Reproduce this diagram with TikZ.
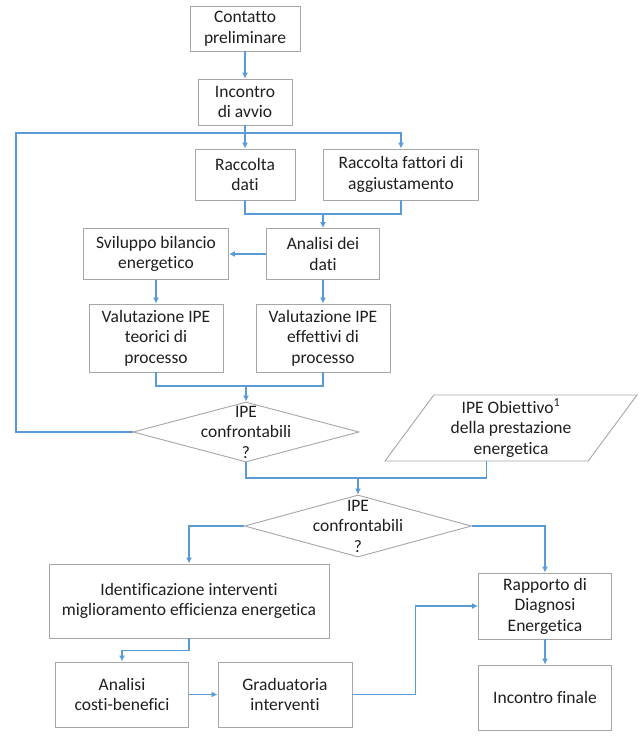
\documentclass[tikz,border=0pt]{standalone}
\usepackage{fontspec}
\setmainfont{Carlito}[Ligatures=NoCommon]
\usetikzlibrary{arrows.meta,shapes.geometric}
\definecolor{arrowblue}{HTML}{5B9BD5}
\definecolor{edgegray}{HTML}{A6A6A6}
\definecolor{ink}{HTML}{1F1F1F}
\begin{document}
\begin{tikzpicture}[x=1pt,y=-1pt,>={Latex[length=6pt,width=6pt]},
    txt/.style={text=ink,align=center,font=\fontsize{17.5}{20.5}\selectfont},
    box/.style={txt,draw=edgegray,line width=0.9pt,fill=white,inner sep=2pt},
    test/.style={diamond,draw=edgegray,line width=0.9pt,fill=white,inner sep=0pt,minimum width=226pt,minimum height=60pt},
    input/.style={txt,trapezium,trapezium left angle=50,trapezium right angle=130,trapezium stretches body,draw=edgegray,line width=0.9pt,inner sep=0pt},
    link/.style={draw=arrowblue,line width=1.2pt}]
                \useasboundingbox (0,0) rectangle (641,736);
                \node[box,minimum width=110pt,minimum height=45pt] (contatto) at (245,28.5) {Contatto\\preliminare};
                \node[box,minimum width=94pt,minimum height=46pt] (avvio) at (245,102) {Incontro\\di avvio};
                \node[box,minimum width=100pt,minimum height=51pt] (raccolta) at (245,174.5) {Raccolta\\dati};
                \node[box,minimum width=155pt,minimum height=51pt] (fattori) at (401,174.5) {Raccolta fattori di\\aggiustamento};
                \node[box,minimum width=113pt,minimum height=51pt] (analisi) at (323,254) {Analisi dei\\dati};
                \node[box,minimum width=145pt,minimum height=51pt] (bilancio) at (156,254) {Sviluppo bilancio\\energetico};
                \node[box,minimum width=134pt,minimum height=68pt] (teorici) at (156,338) {Valutazione IPE\\teorici di\\processo};
                \node[box,minimum width=134pt,minimum height=68pt] (effettivi) at (323,338) {Valutazione IPE\\effettivi di\\processo};
                \node[test,label={[txt]center:IPE\\confrontabili\\?}] (dec1) at (246,432) {};
                \node[input,minimum width=252pt,minimum height=66pt] (obiettivo) at (511,428) {IPE Obiettivo\textsuperscript{1}\\della prestazione\\energetica};
                \node[test,minimum width=227pt,minimum height=62pt,label={[txt]center:IPE\\confrontabili\\?}] (dec2) at (358,526) {};
                \node[box,minimum width=280pt,minimum height=74pt] (ident) at (189,601) {Identificazione interventi\\miglioramento efficienza energetica};
                \node[box,minimum width=133pt,minimum height=66pt] (rapporto) at (545,606) {Rapporto di\\Diagnosi\\Energetica};
                \node[box,minimum width=133pt,minimum height=65pt] (costi) at (122,694.5) {Analisi\\costi-benefici};
                \node[box,minimum width=134pt,minimum height=65pt] (grad) at (285,694.5) {Graduatoria\\interventi};
                \node[box,minimum width=133pt,minimum height=65pt] (finale) at (545,697.5) {Incontro finale};
                \coordinate (loop) at (16,133);
                \coordinate (j1) at (323,214);
                \coordinate (j2) at (246,386);
                \coordinate (j3) at (358,478);

                \draw[link,->] (contatto) to (avvio); \draw[link,->] (avvio) to (raccolta); \draw[link,->] (dec1.west) -| (loop) -| (fattori.north);
                \draw[link] (raccolta.south) |- (j1) -| (fattori.south); \draw[link,->] (j1) to (analisi); \draw[link,->] (analisi) to (bilancio);
                \draw[link,->] (bilancio) to (teorici); \draw[link,->] (analisi) to (effettivi);
                \draw[link] (teorici.south) |- (j2) -| (effettivi.south); \draw[link,->] (j2) to (dec1);
                \draw[link] (dec1.south) |- (j3) -| (obiettivo.bottom side); \draw[link,->] (j3) to (dec2);
                \draw[link,->] (dec2.west) -| (ident.north); \draw[link,->] (dec2.east) -| (rapporto.north);
                \draw[link,->] (ident.south) -- ++(0,12) -| (costi.north); \draw[link,->] (costi) to (grad);
                \draw[link,->] (grad.east) -- ++(63,0) |- (rapporto.west); \draw[link,->] (rapporto) to (finale);
            \end{tikzpicture}
\end{document}
